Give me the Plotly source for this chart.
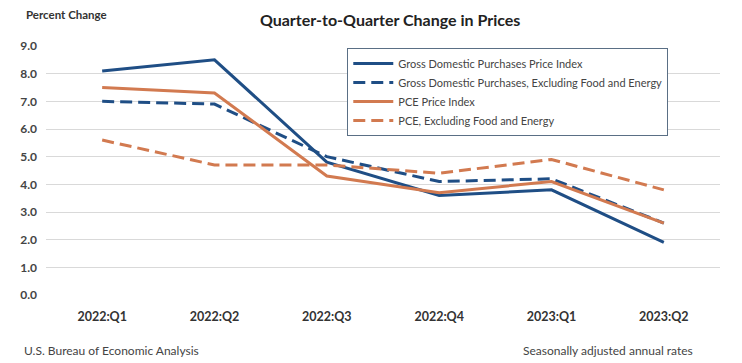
import plotly.graph_objects as go

quarters = ["2022:Q1", "2022:Q2", "2022:Q3", "2022:Q4", "2023:Q1", "2023:Q2"]
gdp_purchases = [8.1, 8.5, 4.8, 3.6, 3.8, 1.9]
gdp_purchases_core = [7.0, 6.9, 5.0, 4.1, 4.2, 2.6]
pce = [7.5, 7.3, 4.3, 3.7, 4.1, 2.6]
pce_core = [5.6, 4.7, 4.7, 4.4, 4.9, 3.8]
y_ticks = [0, 1, 2, 3, 4, 5, 6, 7, 8, 9]

BLUE = "#1f4e85"
ORANGE = "#d27a50"
FONT = "Lato"
DASH = "12px,6px"

fig = go.Figure()
fig.add_trace(go.Scatter(x=quarters, y=gdp_purchases, mode="lines",
                         name="Gross Domestic Purchases Price Index",
                         line=dict(color=BLUE, width=3)))
fig.add_trace(go.Scatter(x=quarters, y=gdp_purchases_core, mode="lines",
                         name="Gross Domestic Purchases, Excluding Food and Energy",
                         line=dict(color=BLUE, width=3, dash=DASH)))
fig.add_trace(go.Scatter(x=quarters, y=pce, mode="lines",
                         name="PCE Price Index",
                         line=dict(color=ORANGE, width=3)))
fig.add_trace(go.Scatter(x=quarters, y=pce_core, mode="lines",
                         name="PCE, Excluding Food and Energy",
                         line=dict(color=ORANGE, width=3, dash=DASH)))

fig.update_layout(
    width=742, height=363,
    margin=dict(l=34, r=30, t=38, b=76),
    paper_bgcolor="white", plot_bgcolor="white",
    font=dict(family=FONT, color="#333333"),
    title=dict(text="<b>Quarter-to-Quarter Change in Prices</b>",
               x=0.515, xanchor="center", y=0.967, yanchor="middle",
               font=dict(size=16, color="#222222", family=FONT)),
    showlegend=True,
    legend=dict(x=0.447, y=0.992, xanchor="left", yanchor="top",
                bordercolor="#5a6f85", borderwidth=1, bgcolor="white",
                font=dict(size=11, color="#444444", family=FONT),
                tracegroupgap=0, itemwidth=40),
    xaxis=dict(type="category", range=[-0.5, 5.5], showgrid=False,
               showline=False, zeroline=False, ticks="",
               ticklabelstandoff=12,
               tickfont=dict(size=12.5, color="#333333", family=FONT),
               tickvals=quarters, ticktext=["<b>%s</b>" % q for q in quarters]),
    yaxis=dict(range=[0, 9], tickvals=y_ticks,
               ticktext=["<b>%.1f</b>" % v for v in y_ticks],
               showgrid=True, gridcolor="#d9d9d9", gridwidth=1,
               zeroline=False, showline=False, ticks="",
               ticklabelstandoff=8,
               tickfont=dict(size=12, color="#444444", family=FONT)),
)

fig.add_annotation(text="<b>Percent Change</b>", xref="paper", yref="paper",
                   x=-0.032, y=1.128, xanchor="left", yanchor="middle",
                   showarrow=False, font=dict(size=11.5, color="#333333", family=FONT))
fig.add_annotation(text="U.S. Bureau of Economic Analysis", xref="paper", yref="paper",
                   x=-0.035, y=-0.221, xanchor="left", yanchor="middle",
                   showarrow=False, font=dict(size=12, color="#444444", family=FONT))
fig.add_annotation(text="Seasonally adjusted annual rates", xref="paper", yref="paper",
                   x=0.963, y=-0.221, xanchor="right", yanchor="middle",
                   showarrow=False, font=dict(size=12, color="#444444", family=FONT))

fig.write_html("out.html")
